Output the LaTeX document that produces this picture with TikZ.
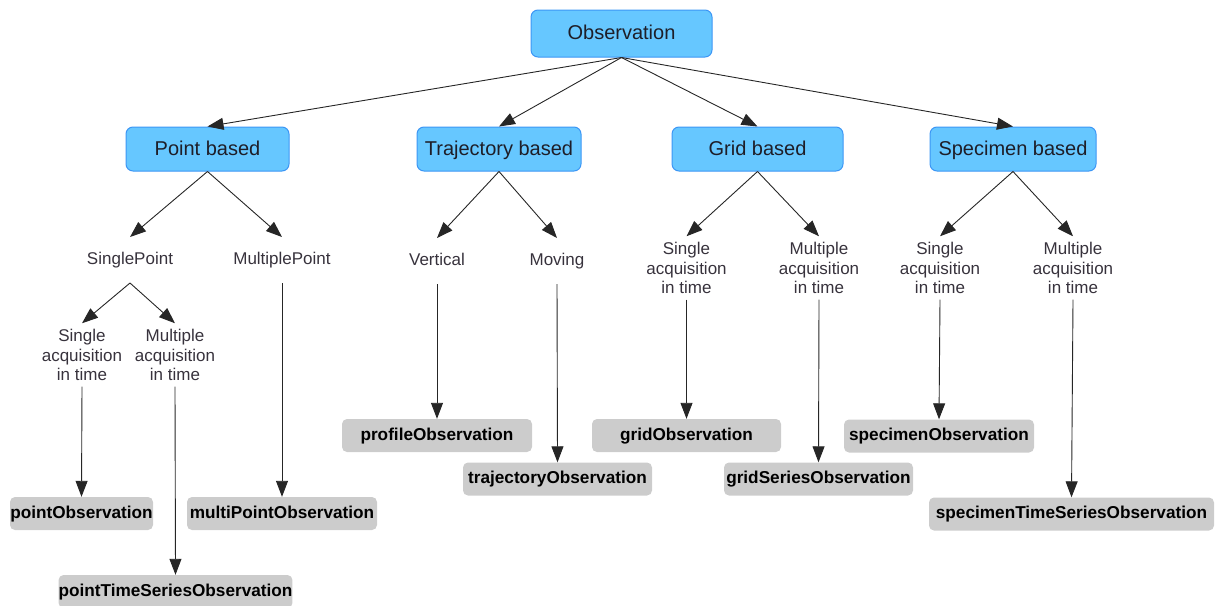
\documentclass[tikz,border=0pt]{standalone}
\usepackage{fontspec}
\setmainfont{Liberation Sans}
\usetikzlibrary{arrows.meta}

\definecolor{catfill}{RGB}{102,199,255}
\definecolor{catline}{RGB}{60,150,245}
\definecolor{leaffill}{RGB}{204,204,204}
\definecolor{ink}{RGB}{30,30,40}
\definecolor{lblink}{RGB}{55,50,60}

\tikzset{
  x=1pt, y=-1pt,
  category/.style={draw=catline, line width=1pt, fill=catfill, rounded corners=7pt,
    minimum height=44pt, inner sep=0pt, text=ink, text height=14.5pt, text depth=2.5pt,
    font=\fontsize{20}{24}\selectfont},
  leaf/.style={fill=leaffill, rounded corners=5pt, minimum height=33pt,
    inner sep=0pt, text=black, text height=12.5pt, text depth=3.5pt,
    font=\fontsize{17.2}{20}\selectfont\bfseries},
  single/.style={inner xsep=1pt, inner ysep=2pt, outer ysep=13pt, text=lblink,
    text height=12.4pt, text depth=3.6pt,
    font=\fontsize{17}{19.5}\selectfont},
  multi/.style={align=center, inner xsep=1pt, inner ysep=2pt, outer ysep=4pt, text=lblink,
    font=\fontsize{17}{19.5}\selectfont},
  arr/.style={-{Triangle[length=16pt,width=12pt]}, line width=0.9pt, draw=black!85},
}

\begin{document}
\begin{tikzpicture}
\useasboundingbox (0,0) rectangle (1217,605);

% root
\node[category, minimum width=181pt, minimum height=47pt] (obs) at (621.5,33.5) {Observation};

% categories
\node[category, minimum width=163pt] (pb) at (207.5,149) {Point based};
\node[category, minimum width=164pt] (tb) at (499,149) {Trajectory based};
\node[category, minimum width=171pt] (gb) at (757.5,149) {Grid based};
\node[category, minimum width=166pt] (sb) at (1013,149) {Specimen based};

% intermediate labels
\node[single] (sp) at (130,260) {SinglePoint};
\node[single] (mp) at (282,260) {MultiplePoint};
\node[multi] (psa) at (82,355) {Single\\acquisition\\in time};
\node[multi] (pma) at (175,355) {Multiple\\acquisition\\in time};

\node[single] (vt) at (437,261) {Vertical};
\node[single] (mv) at (557,261) {Moving};

\node[multi] (gsa) at (686.5,268) {Single\\acquisition\\in time};
\node[multi] (gma) at (819,268) {Multiple\\acquisition\\in time};

\node[multi] (ssa) at (940,268) {Single\\acquisition\\in time};
\node[multi] (sma) at (1073,268) {Multiple\\acquisition\\in time};

% observation types
\node[leaf, minimum width=143pt] (po) at (81.5,513.5) {pointObservation};
\node[leaf, minimum width=231pt] (pts) at (175.5,591.5) {pointTimeSeriesObservation};
\node[leaf, minimum width=190pt] (mpo) at (282,513.5) {multiPointObservation};
\node[leaf, minimum width=190pt] (pro) at (437,435.5) {profileObservation};
\node[leaf, minimum width=189pt] (tro) at (557.5,479) {trajectoryObservation};
\node[leaf, minimum width=189pt] (gro) at (686.5,435.5) {gridObservation};
\node[leaf, minimum width=189pt] (gso) at (818.5,479) {gridSeriesObservation};
\node[leaf, minimum width=190pt] (spo) at (939,436) {specimenObservation};
\node[leaf, minimum width=285pt] (sts) at (1071.5,514) {specimenTimeSeriesObservation};

% root to categories
\draw[arr] (obs.south) -- (pb.north);
\draw[arr] (obs.south) -- (tb.north);
\draw[arr] (obs.south) -- (gb.north);
\draw[arr] (obs.south) -- (sb.north);

% point based
\draw[arr] (pb.south) -- (sp.north);
\draw[arr] (pb.south) -- (mp.north);
\draw[arr] (sp.south) -- (psa.north);
\draw[arr] (sp.south) -- (pma.north);
\draw[arr] (psa.south) -- (po.north);
\draw[arr] (pma.south) -- (pts.north);
\draw[arr] (mp.south) -- (mpo.north);

% trajectory based
\draw[arr] (tb.south) -- (vt.north);
\draw[arr] (tb.south) -- (mv.north);
\draw[arr] (vt.south) -- (pro.north);
\draw[arr] (mv.south) -- (tro.north);

% grid based
\draw[arr] (gb.south) -- (gsa.north);
\draw[arr] (gb.south) -- (gma.north);
\draw[arr] (gsa.south) -- (gro.north);
\draw[arr] (gma.south) -- (gso.north);

% specimen based
\draw[arr] (sb.south) -- (ssa.north);
\draw[arr] (sb.south) -- (sma.north);
\draw[arr] (ssa.south) -- (spo.north);
\draw[arr] (sma.south) -- (sts.north);
\end{tikzpicture}
\end{document}
